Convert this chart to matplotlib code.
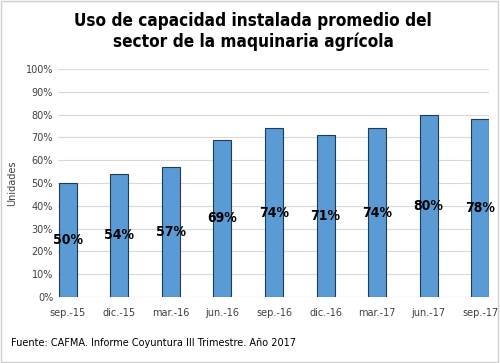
import matplotlib.pyplot as plt
from matplotlib.patches import Rectangle

# Данные
periodos = ['sep.-15', 'dic.-15', 'mar.-16', 'jun.-16', 'sep.-16',
            'dic.-16', 'mar.-17', 'jun.-17', 'sep.-17']
uso = [50, 54, 57, 69, 74, 71, 74, 80, 78]

fig = plt.figure(figsize=(5, 3.63), dpi=100)
ax = fig.add_axes([0.116, 0.182, 0.862, 0.628])

x = range(len(periodos))
ax.bar(x, uso, width=0.35, color='#5B9BD5', edgecolor='#1F3A5A', linewidth=0.8, zorder=3)

# Подписи в середине столбцов
for i, v in enumerate(uso):
    ax.text(i, v / 2, f'{v}%', ha='center', va='center', fontsize=10,
            fontweight='bold', color='black', stretch='condensed', zorder=4)

ax.set_ylim(0, 100)
ax.set_xlim(-0.19, 8.17)
ax.set_yticks(range(0, 101, 10))
ax.set_yticklabels([f'{t}%' for t in range(0, 101, 10)])
ax.set_xticks(list(x))
ax.set_xticklabels(periodos)
ax.tick_params(axis='both', length=0, labelsize=7, colors='#404040')
ax.tick_params(axis='x', pad=8)
ax.grid(axis='y', color='#D9D9D9', linewidth=0.8, zorder=0)
for s in ax.spines.values():
    s.set_visible(False)
ax.axhline(0, color='#D9D9D9', linewidth=0.8, zorder=1)

ax.set_ylabel('Unidades', fontsize=7, color='#404040', labelpad=6)

fig.text(0.506, 0.968, 'Uso de capacidad instalada promedio del\nsector de la maquinaria agrícola',
         ha='center', va='top', fontsize=12.3, fontweight='bold',
         family='DejaVu Sans', stretch='condensed', linespacing=1.22)
fig.text(0.022, 0.055, 'Fuente: CAFMA. Informe Coyuntura III Trimestre. Año 2017',
         ha='left', va='center', fontsize=7, color='black')

# Рамка
fig.patches.append(Rectangle((0.002, 0.003), 0.994, 0.994, transform=fig.transFigure,
                             fill=False, edgecolor='#D0D0D0', linewidth=1))

fig.savefig('out.png', dpi=100)
